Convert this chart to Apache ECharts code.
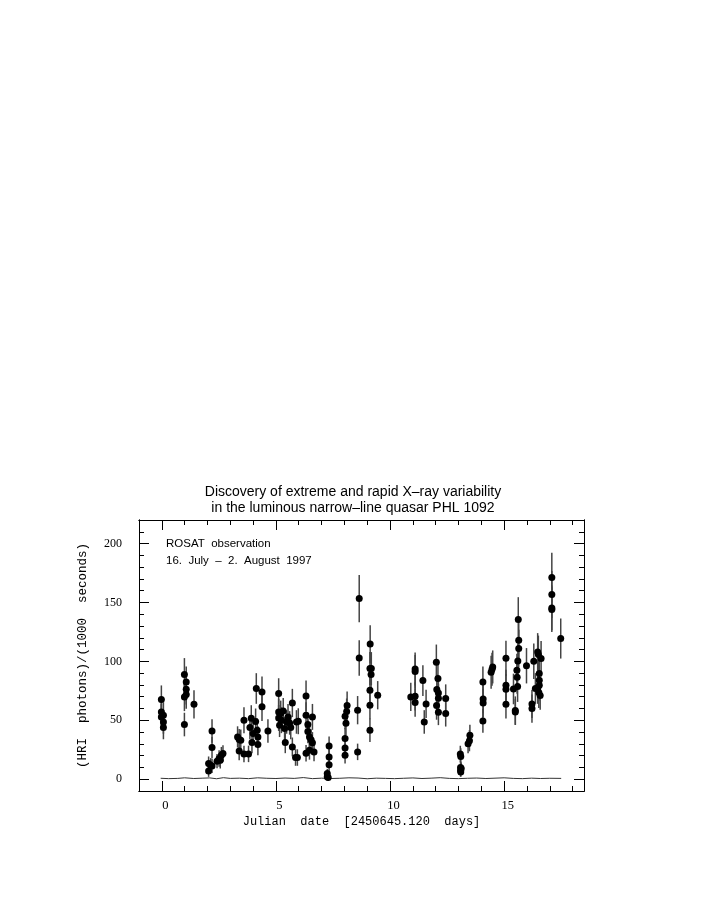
<!DOCTYPE html>
<html>
<head>
<meta charset="utf-8">
<script src="https://cdn.jsdelivr.net/npm/echarts@6/dist/echarts.min.js"></script>
<style>html,body{margin:0;padding:0;background:#fff}#c{width:708px;height:917px}</style>
</head>
<body>
<div id="c"></div>
<script>
// Julian date offsets (days) of the ROSAT HRI bins
var days = [
  -0.02,-0.02,0.07,-0.02,0.07,0.07,
  0.99,1.07,1.07,1.07,0.99,0.99,1.41,
  2.05,2.05,2.14,2.20,2.20,2.20,2.42,2.51,2.56,2.61,2.68,
  3.32,3.39,3.39,3.46,3.60,3.60,3.80,3.86,3.92,3.95,4.00,4.11,4.14,4.18,4.21,4.21,4.39,4.39,4.65,
  5.12,5.12,5.12,5.16,5.21,5.24,5.32,5.38,5.41,5.47,5.53,5.60,5.65,5.72,5.72,5.86,5.94,5.90,5.98,
  6.32,6.32,6.40,6.40,6.32,6.47,6.54,6.60,6.60,6.47,6.67,
  7.25,7.25,7.29,7.33,7.33,7.33,
  8.03,8.07,8.12,8.10,8.03,8.03,8.03,
  8.65,8.65,8.58,8.58,
  9.13,9.12,9.18,9.17,9.12,9.12,9.12,9.46,
  10.91,11.10,11.10,11.10,11.10,11.44,11.58,11.50,
  12.03,12.10,12.05,12.12,12.12,12.04,12.12,12.44,12.44,
  13.08,13.10,13.09,13.09,13.10,13.12,13.42,13.48,13.50,
  14.07,14.08,14.08,14.07,14.43,14.47,14.50,
  15.08,15.08,15.08,15.08,15.41,15.49,15.49,15.56,15.57,15.59,15.62,15.64,15.64,15.60,
  15.98,16.22,16.22,16.30,16.37,16.47,16.47,16.50,16.54,16.54,16.54,16.52,16.58,16.62,
  17.09,17.09,17.09,17.09,17.48
];
// count rate (HRI photons / 1000 s)
var rate = [
  67.6,57.1,54.3,52.9,48.6,43.9,
  88.8,82.6,76.4,71.9,69.8,46.4,63.6,
  13.3,7.0,11.9,41.0,26.9,11.3,15.3,17.5,16.1,20.4,21.8,
  35.9,33.7,24.0,33.1,50.1,21.5,21.5,43.9,51.8,31.1,38.8,49.0,77.0,41.6,35.9,29.4,74.1,61.4,41.0,
  72.7,57.1,52.0,45.8,55.7,50.1,58.0,43.0,31.1,48.6,52.9,47.8,43.9,64.7,27.4,18.4,18.4,48.6,49.2,
  70.7,54.3,46.5,40.5,22.0,35.9,33.5,52.9,31.0,24.6,23.2,
  4.8,2.0,1.4,28.2,18.9,12.2,
  53.5,47.5,62.5,57.5,34.5,26.6,20.4,
  153.3,102.9,58.6,23.2,
  114.7,93.9,93.9,88.8,75.5,62.8,41.6,71.3,
  69.8,93.6,91.4,70.4,65.1,83.7,63.9,48.6,
  99.3,85.4,76.2,73.2,68.8,62.5,56.9,68.5,55.7,
  21.4,19.2,10.0,7.3,6.2,9.1,30.0,32.7,37.3,
  82.6,68.0,64.6,49.5,90.8,93.3,95.3,
  102.6,79.8,76.4,63.6,76.6,58.3,57.0,92.5,86.5,78.6,135.5,118.0,110.9,100.4,
  96.3,63.9,60.0,100.1,77.0,77.0,108.0,105.9,89.7,84.0,79.8,73.5,71.0,102.4,
  171.1,156.8,145.4,144.0,119.4
];
// 1-sigma errors
var rateErr = [
  12,11,11,11,10,10,
  14,13,13,12,12,10,12,
  6,5,6,10,9,6,6,7,7,7,7,
  9,9,8,9,11,7,7,10,11,9,10,11,13,10,9,9,13,12,10,
  13,11,11,10,11,11,11,10,9,10,11,10,10,12,8,7,7,10,11,
  13,11,10,10,7,9,9,11,9,8,8,
  4,3,3,8,7,6,
  11,10,12,11,9,8,7,
  20,15,12,7,
  16,14,14,14,13,12,10,12,
  12,14,14,12,12,13,12,10,
  15,14,13,13,12,12,11,12,11,
  7,7,5,5,4,5,8,9,9,
  13,12,12,10,14,14,14,
  15,13,13,12,13,12,11,14,14,13,19,17,16,15,
  15,12,12,15,13,13,16,16,14,13,13,13,12,15,
  21,20,19,19,17
];
// background level
var bgDays = [-0.05,0.3,0.7,1.0,1.4,1.8,2.1,2.4,2.7,3.0,3.4,3.8,4.2,4.6,5.0,5.4,5.8,6.2,6.6,7.0,7.4,7.8,8.2,8.6,9.0,9.4,9.8,10.2,10.6,11.0,11.4,11.8,12.2,12.6,13.0,13.4,13.8,14.2,14.6,15.0,15.4,15.8,16.2,16.6,17.0,17.5];
var bgRate = [0.8,0.5,0.7,1.2,0.6,0.9,1.1,0.4,1.3,0.7,0.9,0.5,1.2,0.8,0.6,1.0,0.7,1.4,0.5,0.9,0.6,0.8,1.2,1.0,0.4,0.9,0.7,0.5,0.8,1.1,0.6,0.9,1.3,0.7,0.5,0.8,1.0,0.6,0.9,1.2,0.7,0.5,0.9,0.6,0.8,0.7];
var xMajor = [0,5,10,15];
var xMinor = [0,1,2,3,4,5,6,7,8,9,10,11,12,13,14,15,16,17,18];
var yMajor = [0,50,100,150,200];
var yMinor = [-10,0,10,20,30,40,50,60,70,80,90,100,110,120,130,140,150,160,170,180,190,200,210,220];

var titleLines = ['Discovery of extreme and rapid X\u2013ray variability', 'in the luminous narrow\u2013line quasar PHL 1092'];
var noteLines = ['ROSAT  observation', '16.  July  \u2013  2.  August  1997'];

var pts = days.map(function(d,i){return [d, rate[i], rateErr[i]];});
var bg = bgDays.map(function(d,i){return [d, bgRate[i]];});

var chart = echarts.init(document.getElementById('c'), null, {renderer:'canvas'});
function xAx(pos, vals, len, labels){
  var a = {type:'value', position:pos, min:-1, max:18.5, splitLine:{show:false},
    axisLine:{show:true, onZero:false, lineStyle:{color:'#000', width:1}},
    axisTick:{show:true, inside:true, length:len, customValues:vals, lineStyle:{color:'#000', width:1}},
    axisLabel:{show:false}};
  if (labels){
    a.axisLabel = {show:true, customValues:vals, margin:8, padding:[0,0,0,7], fontFamily:'Liberation Serif', fontSize:12.5, color:'#000'};
    a.name = 'Julian  date  [2450645.120  days]';
    a.nameLocation = 'middle'; a.nameGap = 25;
    a.nameTextStyle = {fontFamily:'Liberation Mono', fontSize:12, color:'#000'};
  }
  return a;
}
function yAx(pos, vals, len, labels){
  var a = {type:'value', position:pos, min:-10, max:220, splitLine:{show:false},
    axisLine:{show:true, onZero:false, lineStyle:{color:'#000', width:1}},
    axisTick:{show:true, inside:true, length:len, customValues:vals, lineStyle:{color:'#000', width:1}},
    axisLabel:{show:false}};
  if (labels){
    a.axisLabel = {show:true, customValues:vals, margin:17, fontFamily:'Liberation Serif', fontSize:12, color:'#000'};
    a.name = '(HRI  photons)/(1000  seconds)';
    a.nameLocation = 'middle'; a.nameGap = 50;
    a.nameTextStyle = {fontFamily:'Liberation Mono', fontSize:12.5, color:'#000'};
  }
  return a;
}

chart.setOption({
  animation:false,
  backgroundColor:'#fff',
  grid:{left:139, right:124, top:520, bottom:126, show:false},
  xAxis:[xAx('bottom', xMinor, 5, false), xAx('bottom', xMajor, 10, true), xAx('top', xMinor, 5, false), xAx('top', xMajor, 10, false)],
  yAxis:[yAx('left', yMinor, 5, false), yAx('left', yMajor, 10, true), yAx('right', yMinor, 5, false), yAx('right', yMajor, 10, false)],
  graphic:[
    {type:'text', style:{text:titleLines[0], x:353, y:492, textAlign:'center', textVerticalAlign:'middle', fontFamily:'Liberation Sans', fontSize:14, fill:'#000'}},
    {type:'text', style:{text:titleLines[1], x:353, y:508.5, textAlign:'center', textVerticalAlign:'middle', fontFamily:'Liberation Sans', fontSize:14, fill:'#000'}},
    {type:'text', style:{text:noteLines[0], x:166, y:543.5, textAlign:'left', textVerticalAlign:'middle', fontFamily:'Liberation Sans', fontSize:11.5, fill:'#000'}},
    {type:'text', style:{text:noteLines[1], x:166, y:561, textAlign:'left', textVerticalAlign:'middle', fontFamily:'Liberation Sans', fontSize:11.5, fill:'#000'}}
  ],
  series:[
    {type:'line', xAxisIndex:0, yAxisIndex:0, data:bg, showSymbol:false, symbol:'none', lineStyle:{color:'#333', width:1}, z:1},
    {type:'custom', xAxisIndex:0, yAxisIndex:0, data:pts, z:2,
      renderItem:function(params, api){
        var x = api.value(0), y = api.value(1), e = api.value(2);
        var p1 = api.coord([x, y+e]), p2 = api.coord([x, y-e]);
        return {type:'line', shape:{x1:p1[0], y1:p1[1], x2:p2[0], y2:p2[1]}, style:{stroke:'#444', lineWidth:1.5}};
      },
      encode:{x:0, y:1}},
    {type:'scatter', xAxisIndex:0, yAxisIndex:0, data:pts.map(function(p){return [p[0],p[1]];}), symbol:'circle', symbolSize:7, itemStyle:{color:'#000', opacity:1}, z:3}
  ]
});
</script>
</body>
</html>
